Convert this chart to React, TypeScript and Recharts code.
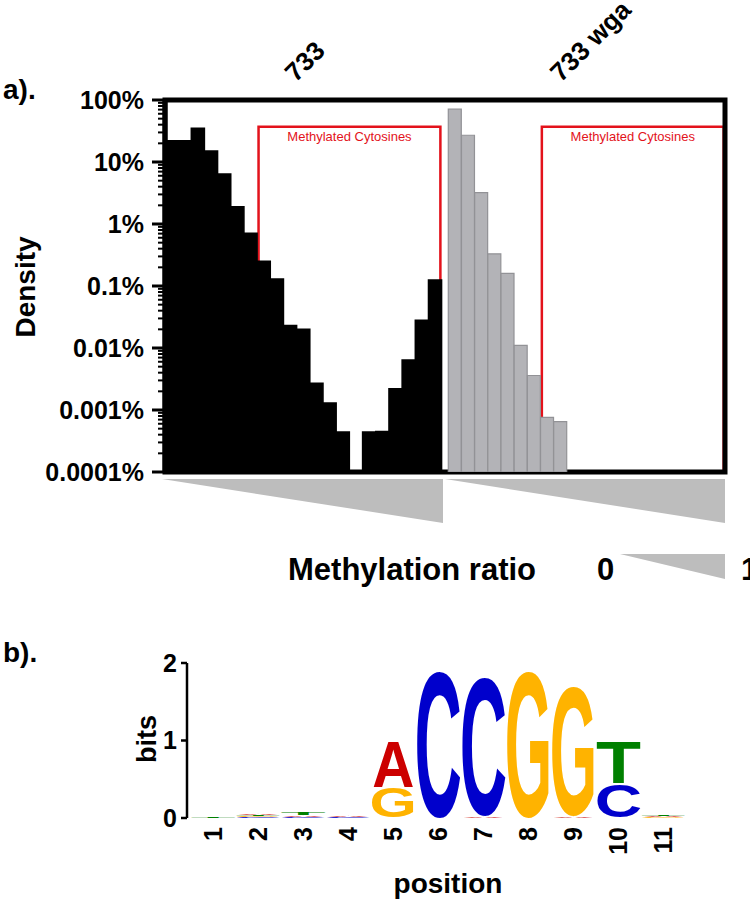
import React from 'react';
import { BarChart, Bar, XAxis, YAxis, Cell, ReferenceArea, AreaChart, Area } from 'recharts';

const FONT = '"Liberation Sans", Arial, Helvetica, sans-serif';

// a) methylation ratio histograms, density in % per bin (0 = empty bin)
const density733 = [22, 22, 35, 15, 6.4, 1.9, 0.71, 0.25, 0.13, 0.023, 0.02, 0.0027, 0.0013, 0.00044, 0, 0.00044, 0.00045, 0.0022, 0.0064, 0.028, 0.125];
const density733wga = [71, 27, 3.2, 0.33, 0.16, 0.011, 0.0036, 0.00076, 0.00065, 0, 0, 0, 0, 0, 0, 0, 0, 0, 0, 0, 0];
const groupNames = ['733', '733 wga'];
const densityTicks = [0.0001, 0.001, 0.01, 0.1, 1, 10, 100];
const densityLabels = ['0.0001%', '0.001%', '0.01%', '0.1%', '1%', '10%', '100%'];
const methylatedRange = [0.33, 1.02];
const ratioScale = [0, 1];

// b) sequence logo, letters bottom -> top with their height in bits
const logoPositions = [1, 2, 3, 4, 5, 6, 7, 8, 9, 10, 11];
const logoLetters = [
  ['T'], ['C', 'G', 'T', 'A'], ['C', 'A', 'T'], ['C', 'G', 'A', 'T'], ['G', 'A'], ['C'],
  ['A', 'C'], ['G'], ['A', 'G'], ['C', 'T'], ['G', 'A', 'T'],
];
const logoBits = [
  [0.01], [0.012, 0.012, 0.012, 0.02], [0.015, 0.02, 0.03], [0.008, 0.006, 0.01, 0.006], [0.4, 0.6], [1.97],
  [0.02, 1.86], [1.97], [0.02, 1.74], [0.45, 0.55], [0.01, 0.01, 0.012],
];
const bitTicks = [0, 1, 2];

const BIN = 0.05; // ratio per bin
const OFFSET = 21.5; // second group starts after a half-bin gap
const RED = '#e3121b';

const densityRows = [density733, density733wga].flatMap((vals, g) =>
  vals.map((v, i) => ({ x: g * OFFSET + i, v: v > 0 ? v : null, g }))
);
const groupCenters = [0, OFFSET].map((o) => o + (density733.length - 1) / 2);
const redBoxes = [0, OFFSET].map((o) => ({ x1: o + methylatedRange[0] / BIN, x2: o + methylatedRange[1] / BIN }));
const minorTicks = densityTicks.slice(0, -1).flatMap((d) => [2, 3, 4, 5, 6, 7, 8, 9].map((m) => m * d));
const allDensityTicks = [...densityTicks, ...minorTicks];

const wedgeRows = ratioScale.map((r) => ({ r }));

const logoRows = logoPositions.map((pos, i) => {
  const row: any = { pos };
  logoLetters[i].forEach((c, k) => {
    row['c' + k] = c;
    row['h' + k] = logoBits[i][k];
  });
  return row;
});

const LETTER_COLORS: Record<string, string> = { A: '#cc0000', C: '#0000cc', G: '#ffb300', T: '#008000' };
// ink box of the bold glyphs, in em
const GLYPH: Record<string, { w: number; h: number; d: number }> = {
  A: { w: 0.72, h: 0.716, d: 0 },
  C: { w: 0.64, h: 0.74, d: 0.012 },
  G: { w: 0.69, h: 0.74, d: 0.012 },
  T: { w: 0.57, h: 0.716, d: 0 },
};

const Glyph = (props: any) => {
  const { x, y, width, height, letter } = props;
  if (!letter || !(height > 0)) return null;
  const m = GLYPH[letter];
  const fs = 100;
  const sx = width / (m.w * fs);
  const sy = height / (m.h * fs);
  return (
    <text
      transform={`translate(${x + width / 2},${y + height}) scale(${sx},${sy})`}
      x={0}
      y={-m.d * fs}
      textAnchor="middle"
      fontSize={fs}
      fontWeight="bold"
      fontFamily={FONT}
      fill={LETTER_COLORS[letter]}
    >
      {letter}
    </text>
  );
};

const DensityTick = (props: any) => {
  const { x, y, payload } = props;
  const idx = densityTicks.indexOf(payload.value);
  const major = idx >= 0;
  return (
    <g>
      <line x1={x - (major ? 13 : 7)} x2={x} y1={y} y2={y} stroke="#000" strokeWidth={major ? 3 : 2} />
      {major && (
        <text x={x - 21} y={y} dy={8.5} textAnchor="end" fontSize={25} fontWeight="bold" fontFamily={FONT} fill="#000">
          {densityLabels[idx]}
        </text>
      )}
    </g>
  );
};

const GroupTick = (props: any) => {
  const { x, y, payload } = props;
  const name = groupNames[groupCenters.indexOf(payload.value)];
  if (!name) return null;
  const w = name.length * 0.58 * 26;
  const sx = x + 6 - w * 0.3;
  const sy = y - 17;
  return (
    <text x={sx} y={sy} transform={`rotate(-45 ${sx} ${sy})`} fontSize={26} fontWeight="bold" fontFamily={FONT} fill="#000">
      {name}
    </text>
  );
};

const PositionTick = (props: any) => {
  const { x, y, payload } = props;
  const ax = x + 9;
  const ay = y + 9;
  return (
    <text x={ax} y={ay} transform={`rotate(-90 ${ax} ${ay})`} textAnchor="end" fontSize={25} fontWeight="bold" fontFamily={FONT} fill="#000">
      {payload.value}
    </text>
  );
};

const Wedge = ({ width, height }: { width: number; height: number }) => (
  <AreaChart width={width} height={height} data={wedgeRows} margin={{ top: 0, right: 0, bottom: 0, left: 0 }}>
    <XAxis dataKey="r" type="number" domain={[0, 1]} hide />
    <YAxis type="number" domain={[0, 1]} reversed hide />
    <Area dataKey="r" type="linear" baseValue={0} fill="#bdbdbd" fillOpacity={1} stroke="none" isAnimationActive={false} />
  </AreaChart>
);

const abs = (left: number, top: number): React.CSSProperties => ({ position: 'absolute', left, top });

export default function App() {
  return (
    <div style={{ position: 'absolute', left: 0, top: 0, width: 750, height: 902, background: '#fff', overflow: 'hidden', fontFamily: FONT }}>
      <svg width={750} height={902} style={abs(0, 0)}>
        <g fontFamily={FONT} fontWeight="bold" fill="#000">
          <text x={3} y={99} fontSize={28}>a).</text>
          <text x={3} y={662} fontSize={28}>b).</text>
          <text transform="translate(35,287) rotate(-90)" textAnchor="middle" fontSize={28}>Density</text>
          <text x={288} y={580} fontSize={31}>Methylation ratio</text>
          <text x={597} y={580} fontSize={31}>0</text>
          <text x={741} y={580} fontSize={31}>1</text>
          <text transform="translate(156,739) rotate(-90)" textAnchor="middle" fontSize={27}>bits</text>
          <text x={448} y={893} textAnchor="middle" fontSize={28}>position</text>
        </g>
      </svg>

      <div style={abs(0, 0)}>
        <BarChart width={750} height={492} data={densityRows} margin={{ top: 60, right: 25, bottom: 20, left: 0 }} barCategoryGap={0} barGap={0}>
          <XAxis xAxisId="bins" dataKey="x" type="number" domain={[-0.5, 42]} hide />
          <XAxis
            xAxisId="top"
            orientation="top"
            dataKey="x"
            type="number"
            domain={[-0.5, 42]}
            ticks={groupCenters}
            interval={0}
            height={40}
            axisLine={false}
            tickLine={false}
            tickSize={0}
            tickMargin={0}
            tick={<GroupTick />}
          />
          <YAxis
            scale="log"
            type="number"
            domain={[0.0001, 100]}
            allowDataOverflow
            ticks={allDensityTicks}
            interval={0}
            width={165}
            tickSize={0}
            tickMargin={0}
            tickLine={false}
            axisLine={{ stroke: '#000', strokeWidth: 5 }}
            tick={<DensityTick />}
          />
          <Bar xAxisId="bins" dataKey="v" isAnimationActive={false}>
            {densityRows.map((d, i) => (
              <Cell key={i} fill={d.g === 0 ? '#000' : '#b3b3b7'} stroke={d.g === 0 ? '#000' : '#929296'} strokeWidth={d.g === 0 ? 1.6 : 1.2} />
            ))}
          </Bar>
          {redBoxes.map((b, i) => (
            <ReferenceArea
              key={i}
              xAxisId="bins"
              x1={b.x1}
              x2={b.x2}
              y1={0.0001}
              y2={37}
              fill="none"
              stroke={RED}
              strokeWidth={2.5}
              ifOverflow="visible"
              label={{ value: 'Methylated Cytosines', position: 'insideTop', fill: RED, fontSize: 13, fontFamily: FONT }}
            />
          ))}
          <ReferenceArea xAxisId="bins" x1={-0.5} x2={42} y1={0.0001} y2={100} fill="none" stroke="#000" strokeWidth={5} ifOverflow="visible" />
        </BarChart>
      </div>

      <div style={abs(162, 479)}>
        <Wedge width={281} height={44} />
      </div>
      <div style={abs(445, 479)}>
        <Wedge width={280} height={44} />
      </div>
      <div style={abs(620, 554)}>
        <Wedge width={105} height={25} />
      </div>

      <div style={abs(0, 640)}>
        <BarChart width={750} height={262} data={logoRows} margin={{ top: 23, right: 64, bottom: 0, left: 0 }} barCategoryGap={1.5} barGap={0}>
          <XAxis
            dataKey="pos"
            type="number"
            domain={[0.42, 11.5]}
            ticks={logoPositions}
            interval={0}
            height={84}
            axisLine={false}
            tickLine={false}
            tickSize={0}
            tickMargin={0}
            tick={<PositionTick />}
          />
          <YAxis
            type="number"
            domain={[0, 2]}
            ticks={bitTicks}
            width={187}
            tickSize={6}
            tickMargin={4}
            axisLine={{ stroke: '#000', strokeWidth: 2.5 }}
            tickLine={{ stroke: '#000', strokeWidth: 2.5 }}
            tick={{ fill: '#000', fontSize: 25, fontWeight: 'bold', fontFamily: FONT }}
          />
          {[0, 1, 2, 3].map((k) => (
            <Bar
              key={k}
              dataKey={'h' + k}
              stackId="logo"
              isAnimationActive={false}
              shape={(p: any) => <Glyph {...p} letter={p.payload ? p.payload['c' + k] : undefined} />}
            />
          ))}
        </BarChart>
      </div>
    </div>
  );
}
